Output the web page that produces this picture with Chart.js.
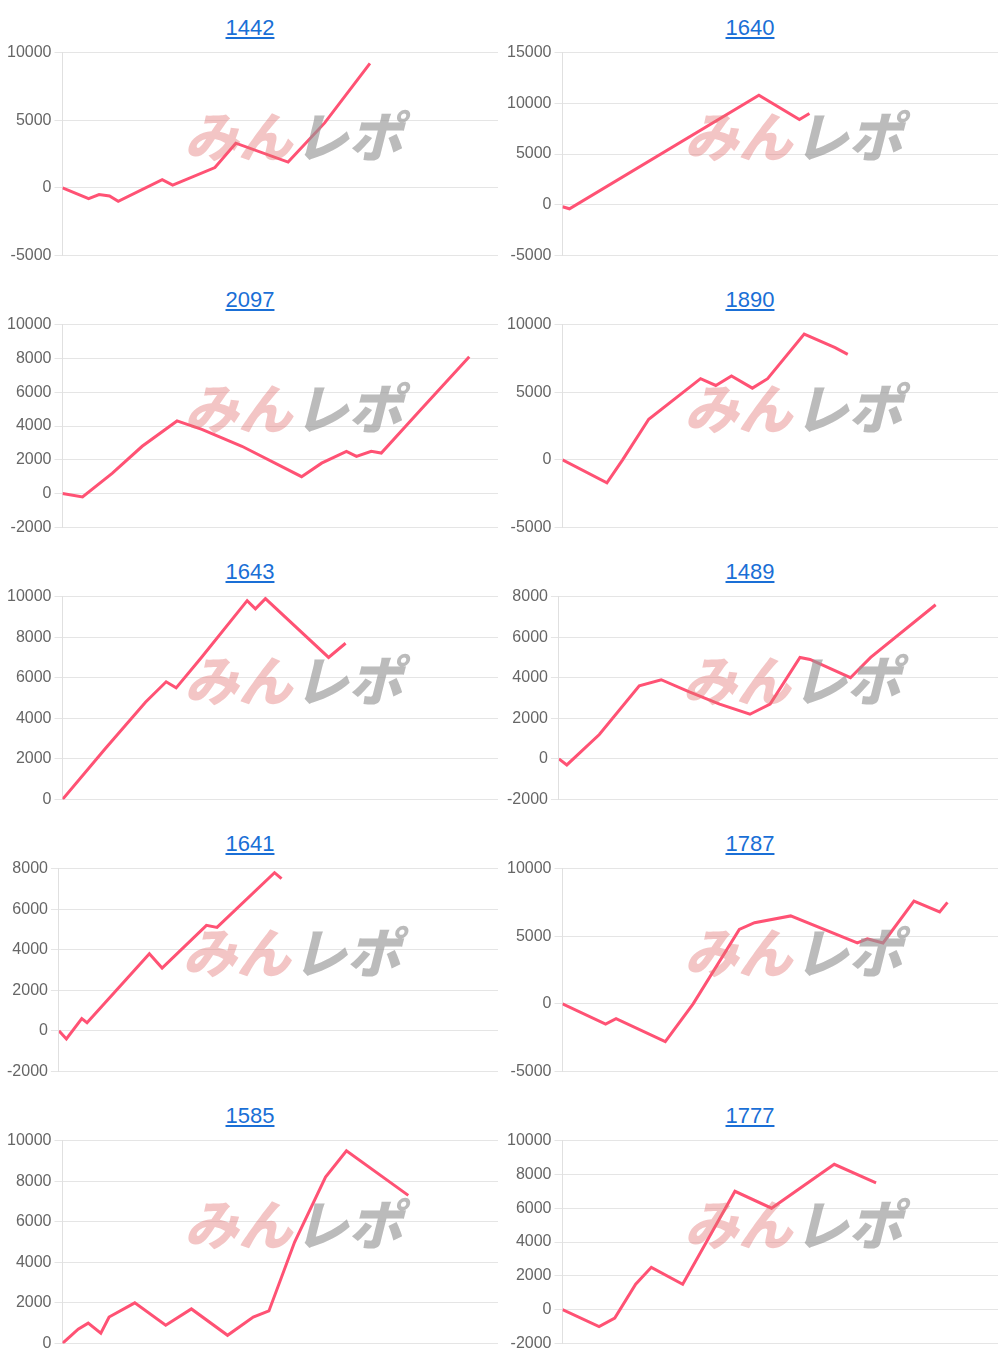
<!DOCTYPE html>
<html>
<head>
<meta charset="utf-8">
<script src="https://cdn.jsdelivr.net/npm/chart.js@4.4.0/dist/chart.umd.min.js"></script>
<style>
  body { margin: 0; background: #fff; font-family: "Liberation Sans", Arial, sans-serif; }
  #grid { display: grid; grid-template-columns: 500px 500px; grid-auto-rows: 272px; width: 1000px; }
  .cell { position: relative; }
  .cell a { display: block; text-align: center; color: #1a6fd6; font-size: 22px; height: 40px; line-height: 56px; }
  .cell .wrap { position: relative; height: 228px; }
</style>
</head>
<body>
<div id="grid"></div>
<script>
// title numbers
const titles = ["1442", "1640", "2097", "1890", "1643", "1489", "1641", "1787", "1585", "1777"];

// x positions as percent of the panel width, y in yen
const x1442 = [0, 6, 8.4, 10.8, 12.8, 22.9, 25.3, 35, 39.8, 51.8, 60.2, 70.6];
const y1442 = [0, -800, -500, -600, -1000, 600, 200, 1500, 3300, 1900, 4800, 9200];
const x1640 = [0, 1.6, 45.1, 54.4, 56.7];
const y1640 = [-200, -400, 10800, 8400, 9000];
const x2097 = [0, 4.6, 11.4, 18.3, 26.3, 32, 41.2, 54.9, 59.5, 65.2, 67.5, 70.9, 73.2, 82.4, 93.4];
const y2097 = [0, -200, 1200, 2800, 4300, 3800, 2800, 1000, 1800, 2500, 2200, 2500, 2400, 5000, 8100];
const x1890 = [0, 10.2, 13.8, 19.8, 31.7, 35.2, 38.8, 43.6, 47.1, 55.5, 62.6, 65.5];
const y1890 = [0, -1700, 0, 3000, 6000, 5500, 6200, 5300, 6000, 9300, 8300, 7800];
const x1643 = [0, 9.8, 19.1, 23.8, 26.1, 31.9, 42.4, 44.3, 46.6, 61.1, 65];
const y1643 = [0, 2500, 4800, 5800, 5500, 7000, 9800, 9400, 9900, 7000, 7700];
const x1489 = [0, 1.8, 9.2, 18.3, 23.3, 29.7, 36.6, 43.5, 48.1, 54.9, 57.2, 66.4, 71, 85.8];
const y1489 = [0, -300, 1200, 3600, 3900, 3300, 2700, 2200, 2700, 5000, 4900, 4000, 5000, 7600];
const x1641 = [0, 1.7, 5.2, 6.4, 20.6, 23.5, 33.6, 36, 49.1, 50.7];
const y1641 = [0, -400, 600, 400, 3800, 3100, 5200, 5100, 7800, 7500];
const x1787 = [0, 9.9, 12.3, 23.6, 30, 40.6, 44.1, 52.4, 67.7, 70, 73.6, 80.7, 86.6, 88.4];
const y1787 = [0, -1500, -1100, -2800, 0, 5500, 6000, 6500, 4500, 4800, 4500, 7600, 6800, 7500];
const x1585 = [0, 3.6, 5.9, 8.8, 10.7, 16.6, 23.7, 29.6, 37.9, 43.8, 47.4, 53.3, 60.4, 65.2, 79.4];
const y1585 = [0, 700, 1000, 500, 1300, 2000, 900, 1700, 400, 1300, 1600, 5000, 8200, 9500, 7300];
const x1777 = [0, 8.4, 12, 16.8, 20.4, 27.6, 39.6, 48, 62.4, 72];
const y1777 = [0, -1000, -500, 1500, 2500, 1500, 7000, 6000, 8600, 7500];

// y axis ranges [min, max, step]
const yRanges = [
  [-5000, 10000, 5000], [-5000, 15000, 5000], [-2000, 10000, 2000], [-5000, 10000, 5000], [0, 10000, 2000],
  [-2000, 8000, 2000], [-2000, 8000, 2000], [-5000, 10000, 5000], [0, 10000, 2000], [-2000, 10000, 2000]
];
const xs = [x1442, x1640, x2097, x1890, x1643, x1489, x1641, x1787, x1585, x1777];
const ys = [y1442, y1640, y2097, y1890, y1643, y1489, y1641, y1787, y1585, y1777];

const watermark = {
  id: "watermark",
  afterDraw(chart) {
    const ctx = chart.ctx;
    const a = chart.chartArea;
    const cx = (a.left + a.right) / 2 + 12, cy = (a.top + a.bottom) / 2 - 18;
    ctx.save();
    ctx.font = "italic 900 54px 'Noto Sans CJK JP'";
    ctx.textBaseline = "middle";
    ctx.fillStyle = "rgba(225,110,110,0.4)";
    ctx.textAlign = "right";
    ctx.fillText("みん", cx, cy);
    ctx.fillStyle = "rgba(150,150,150,0.65)";
    ctx.textAlign = "left";
    ctx.fillText("レポ", cx + 2, cy);
    ctx.restore();
  }
};

const grid = document.getElementById("grid");
titles.forEach((t, i) => {
  const cell = document.createElement("div");
  cell.className = "cell";
  cell.innerHTML = `<a href="#">${t}</a><div class="wrap"><canvas></canvas></div>`;
  grid.appendChild(cell);
  const pts = xs[i].map((x, j) => ({ x: x, y: ys[i][j] }));
  const [ymin, ymax, step] = yRanges[i];
  new Chart(cell.querySelector("canvas"), {
    type: "line",
    data: { datasets: [{ data: pts, borderColor: "#ff5274", borderWidth: 3, pointRadius: 0, tension: 0 }] },
    options: {
      responsive: true,
      maintainAspectRatio: false,
      animation: false,
      layout: { padding: { top: 6, right: 2, bottom: 6, left: 4 } },
      plugins: { legend: { display: false }, tooltip: { enabled: false } },
      scales: {
        x: { type: "linear", min: 0, max: 100, display: false },
        y: {
          min: ymin, max: ymax,
          ticks: { stepSize: step, color: "#666", font: { size: 16, family: "Liberation Sans" }, callback: v => String(v) },
          grid: { color: "#e5e5e5" },
          border: { color: "#e0e0e0" }
        }
      }
    },
    plugins: [watermark]
  });
});
</script>
</body>
</html>
